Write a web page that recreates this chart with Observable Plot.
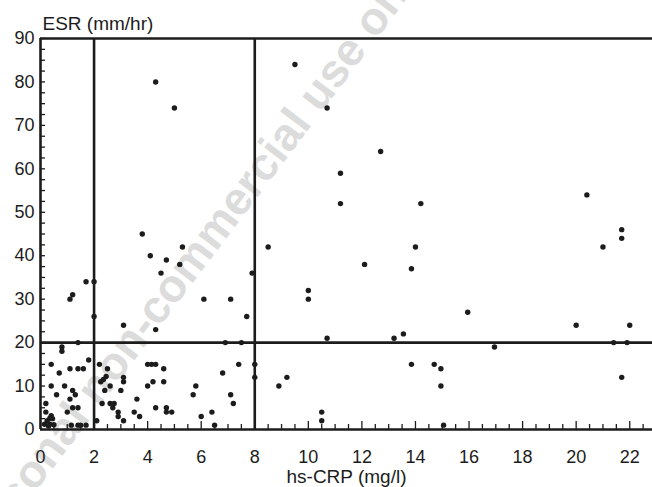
<!DOCTYPE html>
<html><head><meta charset="utf-8">
<script src="https://cdn.jsdelivr.net/npm/d3@7"></script>
<script src="https://cdn.jsdelivr.net/npm/@observablehq/plot@0.6"></script>
<style>
html,body{margin:0;padding:0;background:#fff;}
#wrap{position:relative;width:652px;height:487px;overflow:hidden;}
#wm{position:absolute;left:0;top:0;z-index:0;}
#chart{position:absolute;left:0;top:0;z-index:1;}
</style></head><body>
<div id="wrap">
<svg id="wm" width="652" height="487">
 <g transform="translate(86,398) rotate(-53)" font-family="'Liberation Sans', Arial, sans-serif" font-weight="bold" font-size="46" fill="#dcdcdc">
  <text text-anchor="end" dominant-baseline="central">For personal&#160;</text>
  <text text-anchor="start" dominant-baseline="central">non-commercial use only</text>
 </g>
</svg>
<div id="chart"></div>
</div>
<script>
// hs-CRP (mg/l) values
const crp = [
  4.3, 5.0, 9.5, 10.7, 12.7, 11.2, 20.4, 11.2, 14.2, 8.5, 14.0, 12.1, 13.85, 7.9, 10.0, 10.0, 6.1, 7.1,
  21.7, 21.7, 21.0, 3.8, 4.1, 5.3, 4.7, 5.2, 4.5, 1.1, 1.2, 1.7, 2.0, 2.0, 3.1, 4.3, 7.7, 6.9, 7.5,
  10.7, 13.2, 13.55, 15.95, 20.0, 22.0, 16.95, 21.4, 21.9,
  14.7, 14.95, 14.95, 15.05, 21.7, 13.85, 8.9, 9.2, 10.5, 10.5, 8.0, 8.0,
  7.4, 6.8, 7.1, 7.2, 6.4, 6.5, 6.0, 4.0, 4.15, 4.3, 4.6, 4.2, 4.6, 4.0, 4.3, 4.7, 4.7, 4.9, 3.7,
  5.8, 5.7, 3.6, 3.5, 2.2, 2.5, 2.45, 2.35, 2.25, 3.1, 3.1, 3.0, 2.4, 2.6, 2.3, 2.6, 2.75, 2.7,
  2.9, 2.9, 3.1, 2.1,
  0.8, 0.8, 1.4, 0.4, 1.8, 1.1, 1.4, 1.6, 0.7, 0.4, 0.9, 1.2, 1.3, 0.6, 1.1, 0.2, 0.2, 1.0, 1.2,
  1.4, 0.4, 0.35, 0.45, 0.25, 0.15, 0.35, 0.5, 0.3, 1.15, 1.4, 1.5, 1.7
];
// ESR (mm/hr) values
const esr = [
  80, 74, 84, 74, 64, 59, 54, 52, 52, 42, 42, 38, 37, 36, 32, 30, 30, 30,
  46, 44, 42, 45, 40, 42, 39, 38, 36, 30, 31, 34, 34, 26, 24, 23, 26, 20, 20,
  21, 21, 22, 27, 24, 24, 19, 20, 20,
  15, 14, 10, 1, 12, 15, 10, 12, 4, 2, 15, 12,
  15, 13, 8, 6, 4, 1, 3, 15, 15, 15, 14, 11, 11, 10, 5, 5, 4, 4, 3,
  10, 8, 7, 4, 15, 14, 12.2, 11.5, 11, 12, 11, 9, 9, 10, 6, 6, 6, 5,
  4, 3, 2, 2,
  19, 18, 20, 15, 16, 14, 14, 14, 13, 10, 10, 9, 8, 8, 7, 6, 4, 4, 5,
  5, 3.2, 2.6, 2.5, 2, 1.2, 1.2, 1.1, 0.8, 1, 1, 1, 1
];
const xTickLabels = [0, 2, 4, 6, 8, 10, 12, 14, 16, 18, 20, 22];
const yTickLabels = [0, 10, 20, 30, 40, 50, 60, 70, 80, 90];
const xMinorTicks = d3.range(0, 23, 0.5).filter(v => v % 2 !== 0);
const yMinorTicks = d3.range(0, 90.1, 2.5).filter(v => v % 10 !== 0);
const cutX = [0, 2, 8];
const cutY = [0, 20, 90];

const points = crp.map((x, i) => ({x, y: esr[i]}));
const ink = "#1c1c1c";

const chart = Plot.plot({
  width: 652, height: 487,
  marginLeft: 40, marginRight: 0, marginTop: 38, marginBottom: 58,
  style: {background: "transparent", fontFamily: "'Liberation Sans', Arial, sans-serif", fontSize: "18px", color: ink},
  x: {domain: [0, 22.85]},
  y: {domain: [0, 90]},
  marks: [
    Plot.axisX(xMinorTicks, {tickSize: -5, tickFormat: () => "", label: null, stroke: ink, strokeWidth: 1.3}),
    Plot.axisX(xTickLabels, {tickSize: -8, tickFormat: () => "", label: null, stroke: ink, strokeWidth: 1.3}),
    Plot.axisX(xTickLabels, {tickSize: 0, tickPadding: 21, label: null, fill: ink}),
    Plot.axisY(yMinorTicks, {tickSize: -5, tickFormat: () => "", label: null, stroke: ink, strokeWidth: 1.3}),
    Plot.axisY(yTickLabels, {tickSize: -5, tickFormat: () => "", label: null, stroke: ink, strokeWidth: 1.3}),
    Plot.axisY(yTickLabels, {tickSize: 0, tickPadding: 6, label: null, fill: ink}),
    Plot.ruleX(cutX, {stroke: ink, strokeWidth: 2.6}),
    Plot.ruleY(cutY, {stroke: ink, strokeWidth: 2.6}),
    Plot.dot(points, {x: "x", y: "y", r: 2.7, fill: ink}),
    Plot.text(["ESR (mm/hr)"], {text: d => d, frameAnchor: "top-left", textAnchor: "start", lineAnchor: "middle", dx: 2, dy: -15, fontSize: 19, fill: ink}),
    Plot.text(["hs-CRP (mg/l)"], {text: d => d, frameAnchor: "bottom", lineAnchor: "middle", dy: 47, fontSize: 19, fill: ink})
  ]
});
document.getElementById("chart").appendChild(chart);
</script>
</body></html>
